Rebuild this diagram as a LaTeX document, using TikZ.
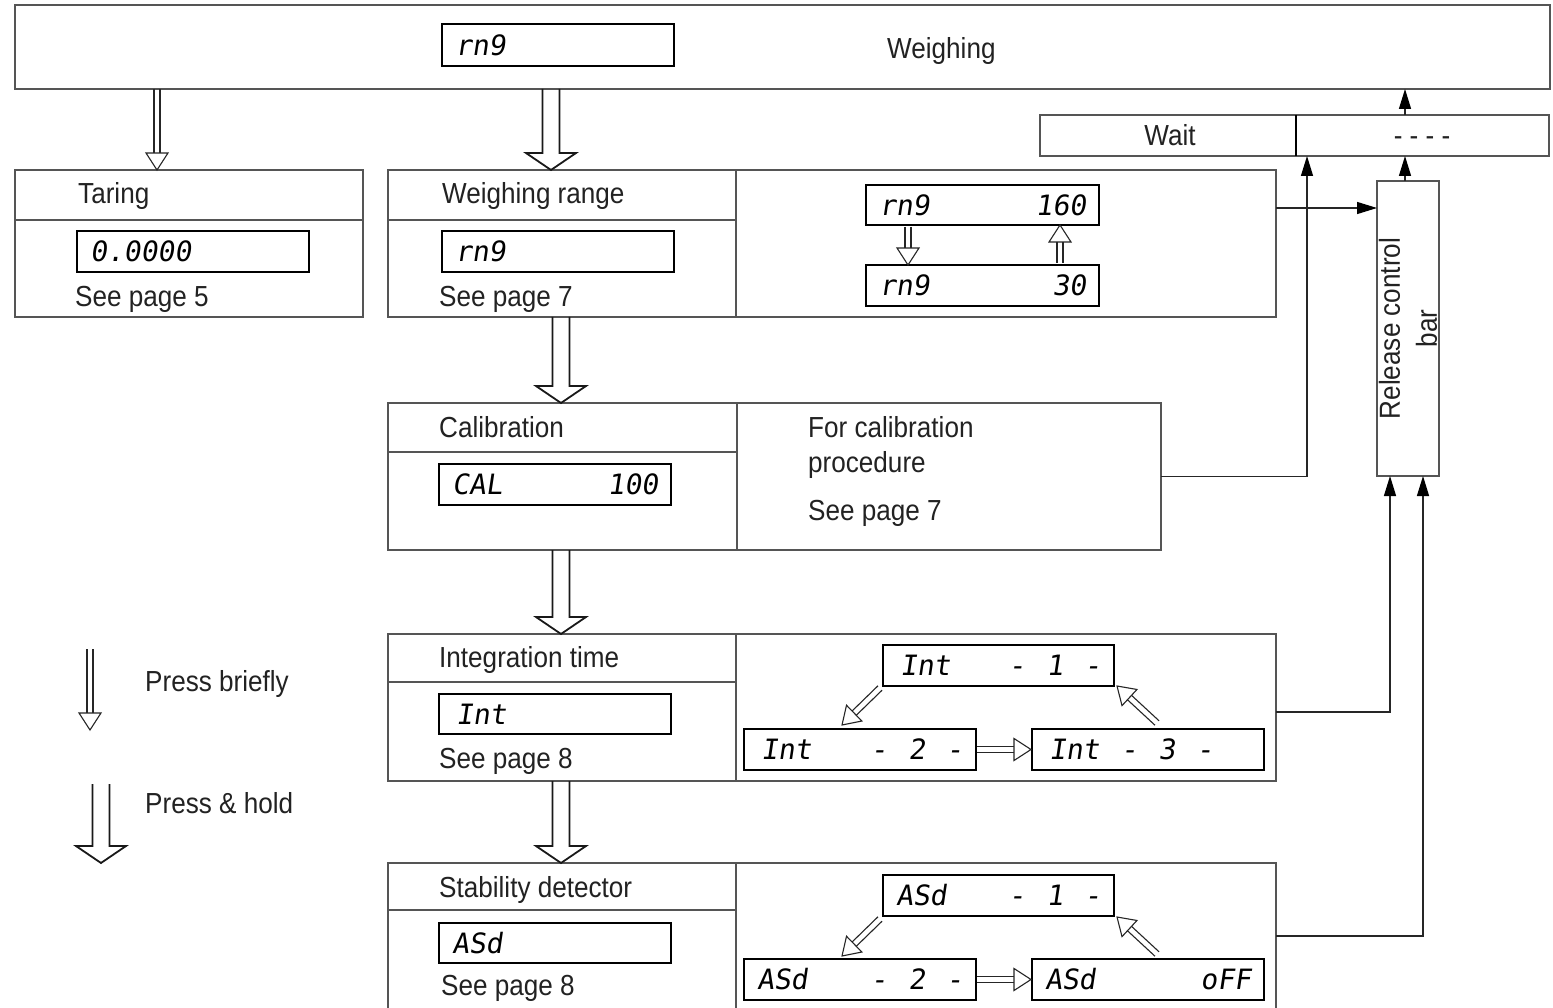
\documentclass[tikz,border=0pt]{standalone}
\usepackage{fontspec}
\setmainfont[FakeStretch=0.9]{Liberation Sans}
\newfontfamily\lcdfont[FakeSlant=0.15]{DejaVu Sans Mono}
\usetikzlibrary{calc,arrows.meta}
\definecolor{linegray}{HTML}{555555}
\definecolor{txtc}{HTML}{222222}
\newcommand\lgap{\hspace{21pt}}
\tikzset{
  box/.style={draw=linegray, line width=1.3pt, rectangle, inner sep=0pt, outer sep=0pt},
  lcd/.style={draw=black, line width=2.2pt, rectangle, inner ysep=0pt, outer sep=0pt,
    font=\lcdfont\fontsize{28}{30}\selectfont, text=black, align=left},
  lbl/.style={anchor=base west, inner sep=0pt, font=\fontsize{29}{35}\selectfont, text=txtc},
  clbl/.style={anchor=base, inner sep=0pt, font=\fontsize{29}{35}\selectfont, text=txtc},
  conn/.style={draw=black!85, line width=1.3pt},
  tip/.style={-{Triangle[length=20pt,width=12pt,color=black,fill=black]}},
  thinarr/.style={draw=black!85, line width=1.1pt},
  thickarr/.style={draw=black!90, line width=1.8pt},
}
\newcommand\boxnode[5]{%
  \pgfmathsetlengthmacro\bw{(#4-#2)*1pt}%
  \pgfmathsetlengthmacro\bh{(#5-#3)*1pt}%
  \node[box, anchor=north west, minimum width=\bw, minimum height=\bh] (#1) at (#2,#3) {};}
\newcommand\lcdnode[7]{%
  \pgfmathsetlengthmacro\bw{(#4-#2-26)*1pt}%
  \pgfmathsetlengthmacro\bh{(#5-#3)*1pt}%
  \node[lcd, anchor=north west, text width=\bw, inner xsep=13pt, minimum height=\bh] (#1) at (#2,#3) {#6\hfill#7};}
\newcommand\thinarrow[2]{%
  \coordinate (thH) at ($(#2)!17pt!(#1)$);
  \draw[thinarr] ($(#1)!3pt!90:(#2)$) -- ($(thH)!3pt!-90:(#1)$);
  \draw[thinarr] ($(#1)!3pt!-90:(#2)$) -- ($(thH)!3pt!90:(#1)$);
  \draw[thinarr, line join=miter] ($(thH)!11pt!-90:(#1)$) -- (#2) -- ($(thH)!11pt!90:(#1)$) -- cycle;}
\newcommand\thickarrow[2]{%
  \draw[thickarr, line join=miter] ($(#1)+(-8.5,0)$) -- ($(#2)+(-8.5,-17)$) -- ($(#2)+(-25,-17)$)
    -- (#2) -- ($(#2)+(25,-17)$) -- ($(#2)+(8.5,-17)$) -- ($(#1)+(8.5,0)$);}
\begin{document}
\begin{tikzpicture}[x=1pt,y=-1pt]
\useasboundingbox (0,0) rectangle (1553,1008);
\fill[white] (0,0) rectangle (1553,1008);
% boxes
\boxnode{top}{15}{5}{1550}{89}
\boxnode{tar}{15}{170}{363}{317}
\boxnode{wr}{388}{170}{1276}{317}
\boxnode{cal}{388}{403}{1161}{550}
\boxnode{intb}{388}{634}{1276}{781}
\boxnode{stab}{388}{863}{1276}{1020}
\boxnode{wait}{1040}{115}{1549}{156}
\boxnode{bar}{1377}{181}{1439}{476}
% dividers
\draw[box] ($(tar.north west)+(0,50)$) -- ($(tar.north east)+(0,50)$);
\draw[box] ($(wr.north west)+(0,50)$) -- ($(wr.north west)+(348,50)$);
\draw[box] ($(wr.north west)+(348,0)$) -- ($(wr.south west)+(348,0)$);
\draw[box] ($(cal.north west)+(0,49)$) -- ($(cal.north west)+(349,49)$);
\draw[box] ($(cal.north west)+(349,0)$) -- ($(cal.south west)+(349,0)$);
\draw[box] ($(intb.north west)+(0,48)$) -- ($(intb.north west)+(348,48)$);
\draw[box] ($(intb.north west)+(348,0)$) -- ($(intb.south west)+(348,0)$);
\draw[box] ($(stab.north west)+(0,47)$) -- ($(stab.north west)+(348,47)$);
\draw[box] ($(stab.north west)+(348,0)$) -- ($(stab.south west)+(348,0)$);
\draw[box, line width=2pt, draw=black] ($(wait.north west)+(256,0)$) -- ($(wait.south west)+(256,0)$);
% LCD displays
\lcdnode{lcdtop}{442}{24}{674}{66}{rn9}{}
\lcdnode{lcdtar}{77}{231}{309}{272}{0.0000}{}
\lcdnode{lcdwr}{442}{231}{674}{272}{rn9}{}
\lcdnode{lcdr1}{866}{185}{1099}{225}{rn9}{160}
\lcdnode{lcdr2}{866}{265}{1099}{306}{rn9}{30}
\lcdnode{lcdcal}{439}{464}{671}{505}{CAL}{100}
\lcdnode{lcdint}{439}{694}{671}{734}{\hspace{4pt}Int}{}
\lcdnode{int1}{883}{645}{1114}{686}{\hspace{4pt}Int}{-\lgap 1\lgap -}
\lcdnode{int2}{744}{729}{976}{770}{\hspace{4pt}Int}{-\lgap 2\lgap -}
\lcdnode{int3}{1032}{729}{1264}{770}{\hspace{4pt}Int\lgap -\lgap 3\lgap -}{}
\lcdnode{lcdasd}{439}{923}{671}{963}{ASd}{}
\lcdnode{asd1}{883}{875}{1114}{916}{ASd}{-\lgap 1\lgap -}
\lcdnode{asd2}{744}{959}{976}{1000}{ASd}{-\lgap 2\lgap -}
\lcdnode{asd3}{1032}{959}{1264}{1000}{ASd}{oFF}
% labels
\node[lbl] (tweigh) at (887,59) {Weighing};
\node[lbl] (ttar) at (78,204) {Taring};
\node[lbl] (tsee5) at (75,307) {See page 5};
\node[lbl] (twr) at (442,204) {Weighing range};
\node[lbl] (tsee7) at (439,307) {See page 7};
\node[lbl] (tcal) at (439,437) {Calibration};
\node[lbl] (tfor) at (808,437) {For calibration};
\node[lbl] (tproc) at (808,472) {procedure};
\node[lbl] (tsee7b) at (808,520) {See page 7};
\node[lbl] (tint) at (439,667) {Integration time};
\node[lbl] (tsee8) at (439,768) {See page 8};
\node[lbl] (tstab) at (439,897) {Stability detector};
\node[lbl] (tsee8b) at (441,995) {See page 8};
\node[lbl] (tbrief) at (145,691) {Press briefly};
\node[lbl] (thold) at (145,813) {Press \& hold};
\node[clbl] (twait) at (1170,146) {Wait};
\node[clbl] (tdash) at (1422,146) {- - - -};
\node[rotate=90, align=center, inner sep=0pt, font=\fontsize{29}{37}\selectfont, text=txtc]
  (tbar) at (bar.center) {Release control\\bar};
% press briefly arrows
\coordinate (a1) at ($(top.south west)+(142,0)$);
\coordinate (a2) at ($(tar.north west)+(142,0)$);
\thinarrow{a1}{a2}
\coordinate (r1) at ($(lcdr1.south west)+(42,2)$);
\coordinate (r2) at ($(lcdr2.north west)+(42,0)$);
\thinarrow{r1}{r2}
\coordinate (r3) at ($(lcdr2.north west)+(194,-2)$);
\coordinate (r4) at ($(lcdr1.south west)+(194,0)$);
\thinarrow{r3}{r4}
\coordinate (i1) at ($(int1.south west)+(-3,2)$);
\coordinate (i2) at ($(int2.north west)+(98,-4)$);
\thinarrow{i1}{i2}
\coordinate (i3) at ($(int2.east)+(1,0)$);
\coordinate (i4) at ($(int3.west)+(-1,0)$);
\thinarrow{i3}{i4}
\coordinate (i5) at ($(int3.north west)+(125,-6)$);
\coordinate (i6) at ($(int1.south east)+(3,0)$);
\thinarrow{i5}{i6}
\coordinate (s1) at ($(asd1.south west)+(-3,3)$);
\coordinate (s2) at ($(asd2.north west)+(98,-3)$);
\thinarrow{s1}{s2}
\coordinate (s3) at ($(asd2.east)+(1,0)$);
\coordinate (s4) at ($(asd3.west)+(-1,0)$);
\thinarrow{s3}{s4}
\coordinate (s5) at ($(asd3.north west)+(125,-5)$);
\coordinate (s6) at ($(asd1.south east)+(3,1)$);
\thinarrow{s5}{s6}
% press & hold arrows
\coordinate (h1) at ($(top.south west)+(536,0)$);
\coordinate (h2) at ($(wr.north west)+(163,0)$);
\thickarrow{h1}{h2}
\coordinate (h3) at ($(wr.south west)+(173,0)$);
\coordinate (h4) at ($(cal.north west)+(173,0)$);
\thickarrow{h3}{h4}
\coordinate (h5) at ($(cal.south west)+(173,0)$);
\coordinate (h6) at ($(intb.north west)+(173,0)$);
\thickarrow{h5}{h6}
\coordinate (h7) at ($(intb.south west)+(173,0)$);
\coordinate (h8) at ($(stab.north west)+(173,0)$);
\thickarrow{h7}{h8}
% legend
\coordinate (lb1) at (90,649);
\coordinate (lb2) at (90,730);
\thinarrow{lb1}{lb2}
\coordinate (lh1) at (101,784);
\coordinate (lh2) at (101,863);
\thickarrow{lh1}{lh2}
% connectors to release bar / wait
\draw[conn, tip] ($(wr.north east)+(0,38)$) -- ($(bar.north west)+(0,27)$);
\draw[conn, tip] (cal.east) -| ($(wait.south west)+(267,0)$);
\draw[conn, tip] ($(bar.north west)+(28,0)$) -- ($(wait.south west)+(365,0)$);
\draw[conn, tip] ($(wait.north west)+(365,0)$) -- ($(top.south west)+(1390,0)$);
\draw[conn, tip] ($(intb.north east)+(0,78)$) -| ($(bar.south west)+(13,0)$);
\draw[conn, tip] ($(stab.north east)+(0,73)$) -| ($(bar.south west)+(46,0)$);
\end{tikzpicture}
\end{document}
